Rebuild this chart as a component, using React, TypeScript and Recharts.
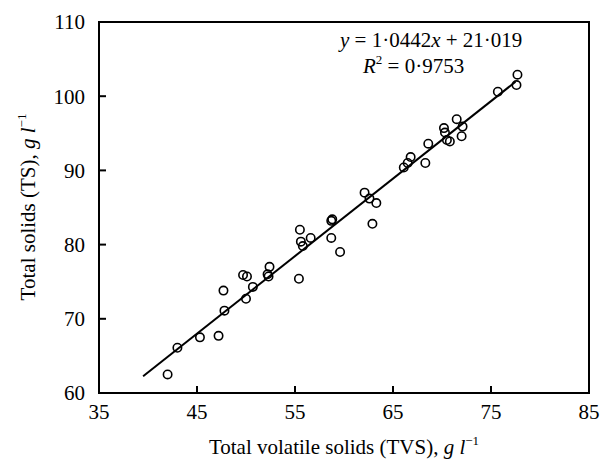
import React from "react";
import {
  ScatterChart,
  Scatter,
  XAxis,
  YAxis,
  ReferenceArea,
  ReferenceLine,
  Customized,
} from "recharts";

// measured points: total volatile solids (x) vs total solids (y), g/l
const tvs = [
  42.0, 43.0, 45.3, 47.2, 47.8, 47.7, 50.0, 50.7, 49.7, 50.1, 52.3, 52.2, 52.4,
  55.4, 55.8, 55.6, 55.5, 56.6, 58.7, 59.6, 58.8, 58.7, 62.9, 63.3, 62.6, 62.1,
  66.1, 66.5, 66.8, 68.3, 68.6, 70.5, 70.8, 70.3, 70.2, 72.0, 72.1, 71.5, 75.7,
  77.6, 77.7,
];
const ts = [
  62.5, 66.1, 67.5, 67.7, 71.1, 73.8, 72.7, 74.3, 75.9, 75.7, 75.7, 76.0, 77.0,
  75.4, 79.8, 80.4, 82.0, 80.9, 80.9, 79.0, 83.4, 83.2, 82.8, 85.6, 86.2, 87.0,
  90.4, 91.0, 91.8, 91.0, 93.6, 94.1, 93.9, 95.1, 95.7, 94.6, 95.9, 96.9, 100.6,
  101.5, 102.9,
];
const xTicks = [35, 45, 55, 65, 75, 85];
const yTicks = [60, 70, 80, 90, 100, 110];

// regression y = 1.0442x + 21.019, drawn over the data range
const slope = 1.0442;
const intercept = 21.019;
const fitFrom = 39.5;
const fitTo = 77.5;

const points = tvs.map((x, i) => ({ x, y: ts[i] }));

const FONT = "'Liberation Serif', 'Times New Roman', serif";
const tickStyle = { fill: "#000", fontFamily: FONT, fontSize: 21 };

const OpenCircle = (props: any) => (
  <circle
    cx={props.cx}
    cy={props.cy}
    r={4.2}
    fill="none"
    stroke="#000"
    strokeWidth={1.6}
  />
);

const Annotations = () => (
  <g fontFamily={FONT} fill="#000">
    <text x={340} y={47} fontSize={21}>
      <tspan fontStyle="italic">y</tspan> = 1·0442
      <tspan fontStyle="italic">x</tspan> + 21·019
    </text>
    <text x={363} y={73} fontSize={21}>
      <tspan fontStyle="italic">R</tspan>
      <tspan dy={-9} fontSize={13}>2</tspan>
      <tspan dy={9}> = 0·9753</tspan>
    </text>
    <text x={344} y={454} fontSize={21} textAnchor="middle">
      Total volatile solids (TVS),{" "}
      <tspan fontStyle="italic">g l</tspan>
      <tspan dy={-9} fontSize={13}>−1</tspan>
    </text>
    <text
      x={35}
      y={207}
      fontSize={21}
      textAnchor="middle"
      transform="rotate(-90, 35, 207)"
    >
      Total solids (TS), <tspan fontStyle="italic">g l</tspan>
      <tspan dy={-9} fontSize={13}>−1</tspan>
    </text>
  </g>
);

export default function App() {
  return (
    <div style={{ position: "absolute", left: 0, top: 0, background: "#fff" }}>
      <ScatterChart
        width={601}
        height={469}
        margin={{ top: 22, right: 12, bottom: 16, left: 39 }}
      >
        <XAxis
          type="number"
          dataKey="x"
          domain={[35, 85]}
          ticks={xTicks}
          allowDataOverflow
          height={60}
          tickSize={-7}
          tickMargin={18}
          tick={tickStyle}
          stroke="#000"
          strokeWidth={2}
        />
        <YAxis
          type="number"
          dataKey="y"
          domain={[60, 110]}
          ticks={yTicks}
          allowDataOverflow
          width={60}
          tickSize={-7}
          tickMargin={21}
          tick={tickStyle}
          stroke="#000"
          strokeWidth={2}
        />
        <ReferenceArea
          x1={35}
          x2={85}
          y1={60}
          y2={110}
          fill="none"
          fillOpacity={0}
          stroke="#000"
          strokeWidth={2}
          ifOverflow="visible"
        />
        <ReferenceLine
          segment={[
            { x: fitFrom, y: slope * fitFrom + intercept },
            { x: fitTo, y: slope * fitTo + intercept },
          ]}
          stroke="#000"
          strokeWidth={2}
        />
        <Scatter data={points} shape={OpenCircle} isAnimationActive={false} />
        <Customized component={Annotations} />
      </ScatterChart>
    </div>
  );
}
